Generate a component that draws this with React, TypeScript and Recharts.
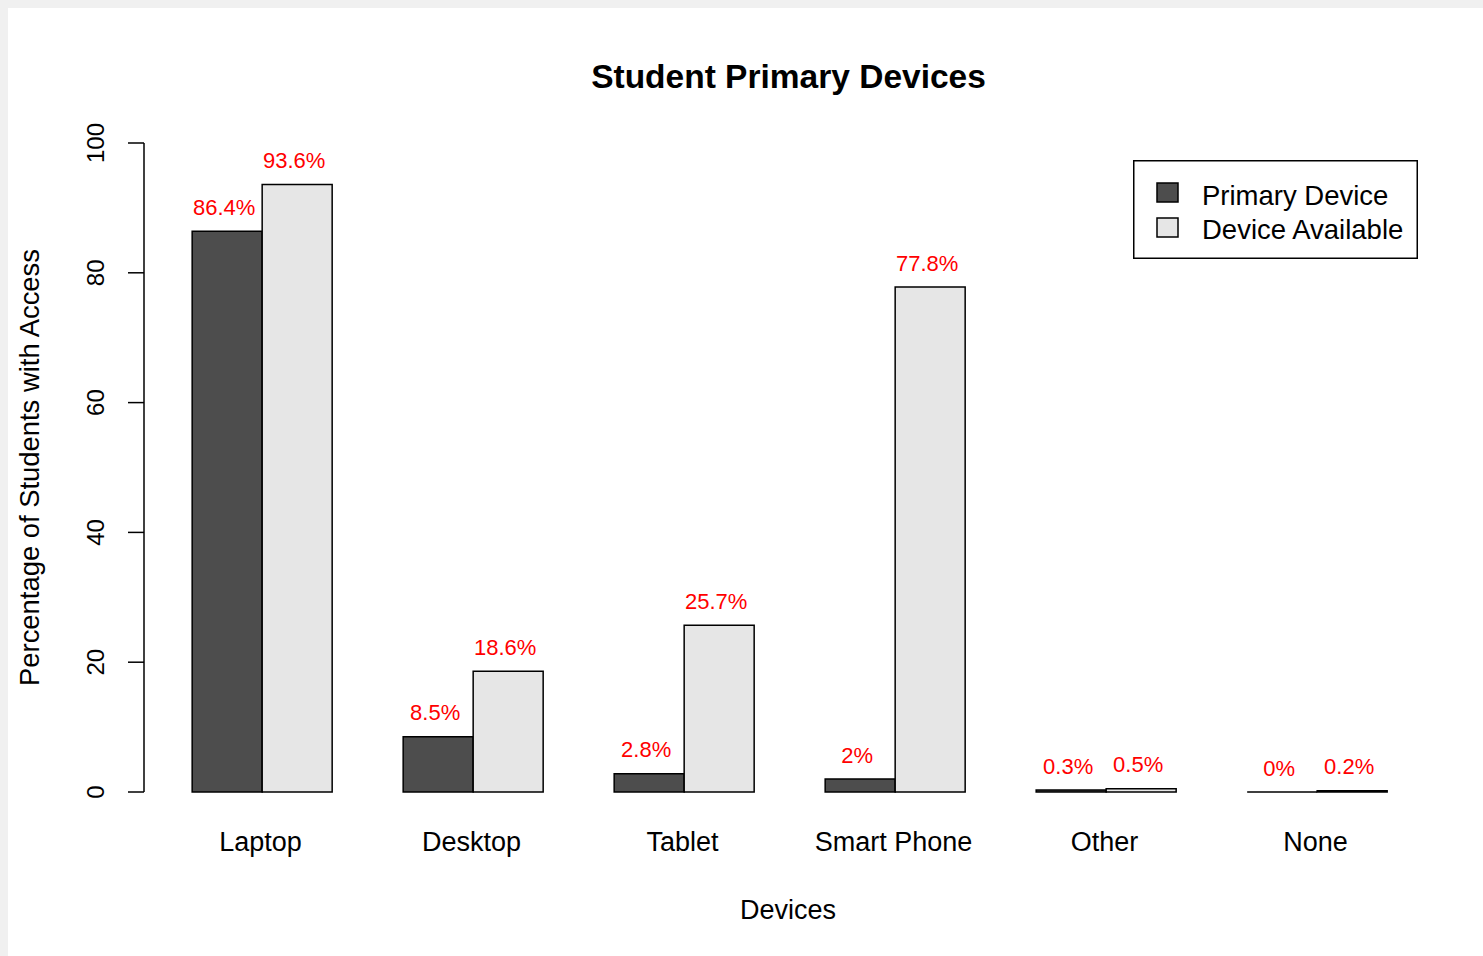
import { BarChart, Bar, XAxis, YAxis, Legend, LabelList, Label } from "recharts";

const categories = ["Laptop", "Desktop", "Tablet", "Smart Phone", "Other", "None"];
const primaryDevice = [86.4, 8.5, 2.8, 2, 0.3, 0];
const deviceAvailable = [93.6, 18.6, 25.7, 77.8, 0.5, 0.2];
const yTicks = [0, 20, 40, 60, 80, 100];
const seriesNames = ["Primary Device", "Device Available"];

const data = categories.map((name, i) => ({
  name,
  primary: primaryDevice[i],
  available: deviceAvailable[i],
}));

const FONT = '"Liberation Sans", Arial, Helvetica, sans-serif';
const DARK = "#4d4d4d";
const LIGHT = "#e6e6e6";

// R draws a border even for zero-height bars, so use a path instead of <rect>
const BarShape = (props: any) => {
  const { x, y, width, height, fill } = props;
  const h = Number(height) || 0;
  return (
    <path
      d={`M${x},${y}h${width}v${h}h${-width}Z`}
      fill={fill}
      stroke="#000"
      strokeWidth={1.5}
    />
  );
};

const ValueLabel = (props: any) => {
  const { x, y, width, value } = props;
  return (
    <text
      x={Number(x) + Number(width) / 2 - 3}
      y={Number(y) - 16.5}
      textAnchor="middle"
      fontSize={22}
      fontFamily={FONT}
      fill="#ff0000"
    >
      {`${value}%`}
    </text>
  );
};

const CategoryTick = ({ x, y, payload }: any) => (
  <text x={x - 2} y={y + 59} textAnchor="middle" fontSize={27} fontFamily={FONT} fill="#000">
    {payload.value}
  </text>
);

const ValueTick = ({ x, y, payload }: any) => {
  const bx = x - 24;
  return (
    <text
      x={bx}
      y={y}
      transform={`rotate(-90 ${bx} ${y})`}
      textAnchor="middle"
      fontSize={24}
      fontFamily={FONT}
      fill="#000"
    >
      {payload.value}
    </text>
  );
};

const LegendBox = ({ payload }: any) => {
  const items = [...(payload || [])].sort(
    (a: any, b: any) => seriesNames.indexOf(a.value) - seriesNames.indexOf(b.value)
  );
  return (
    <svg width={285} height={99} style={{ display: "block" }}>
      <rect x={0.75} y={0.75} width={283.5} height={97.5} fill="#fff" stroke="#000" strokeWidth={1.5} />
      {items.map((entry: any, i: number) => (
        <g key={entry.value}>
          <rect x={24} y={23 + i * 35} width={21} height={19} fill={entry.color} stroke="#000" strokeWidth={1.5} />
          <text x={69} y={45 + i * 34} fontSize={27.5} fontFamily={FONT} fill="#000">
            {entry.value}
          </text>
        </g>
      ))}
    </svg>
  );
};

export default function App() {
  return (
    <div
      style={{
        position: "fixed",
        top: 0,
        left: 0,
        width: 1483,
        height: 956,
        background: "#f0f0f0",
        overflow: "hidden",
      }}
    >
      <div style={{ position: "absolute", left: 8, top: 8, width: 1475, height: 948, background: "#fff" }}>
        <BarChart
          width={1475}
          height={948}
          data={data}
          margin={{ top: 135, right: 60, bottom: 134, left: 36 }}
          barCategoryGap="16.667%"
          barGap={0}
        >
          <XAxis
            dataKey="name"
            height={30}
            padding={{ left: 13, right: 0 }}
            axisLine={false}
            tickLine={false}
            tickSize={0}
            tickMargin={0}
            interval={0}
            tick={<CategoryTick />}
          >
            <Label
              content={() => (
                <text x={780} y={911} textAnchor="middle" fontSize={27} fontFamily={FONT} fill="#000">
                  Devices
                </text>
              )}
            />
            <Label
              content={() => (
                <text
                  x={780.5}
                  y={80}
                  textAnchor="middle"
                  fontSize={33.5}
                  fontWeight="bold"
                  fontFamily={FONT}
                  fill="#000"
                >
                  Student Primary Devices
                </text>
              )}
            />
          </XAxis>
          <YAxis
            width={100}
            domain={[0, 100]}
            ticks={yTicks}
            interval={0}
            tickSize={16}
            tickMargin={0}
            axisLine={{ stroke: "#000", strokeWidth: 1.5 }}
            tickLine={{ stroke: "#000", strokeWidth: 1.5 }}
            tick={<ValueTick />}
          >
            <Label
              content={() => (
                <text
                  x={31}
                  y={459.5}
                  transform="rotate(-90 31 459.5)"
                  textAnchor="middle"
                  fontSize={27.4}
                  fontFamily={FONT}
                  fill="#000"
                >
                  Percentage of Students with Access
                </text>
              )}
            />
          </YAxis>
          <Legend
            layout="horizontal"
            verticalAlign="middle"
            align="center"
            wrapperStyle={{ left: 1125, top: 152, width: 285, height: 99 }}
            content={(props: any) => <LegendBox payload={props.payload} />}
          />
          <Bar
            dataKey="primary"
            name={seriesNames[0]}
            fill={DARK}
            shape={(p: any) => <BarShape {...p} />}
            isAnimationActive={false}
          >
            <LabelList dataKey="primary" content={<ValueLabel />} />
          </Bar>
          <Bar
            dataKey="available"
            name={seriesNames[1]}
            fill={LIGHT}
            shape={(p: any) => <BarShape {...p} />}
            isAnimationActive={false}
          >
            <LabelList dataKey="available" content={<ValueLabel />} />
          </Bar>
        </BarChart>
      </div>
    </div>
  );
}
